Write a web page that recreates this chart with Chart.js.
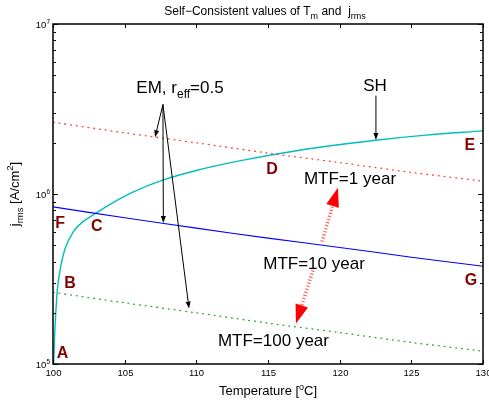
<!DOCTYPE html>
<html>
<head>
<meta charset="utf-8">
<script src="https://cdn.jsdelivr.net/npm/chart.js"></script>
<style>
  html, body { margin: 0; padding: 0; background: #fff; }
  #wrap { width: 489px; height: 404px; }
</style>
</head>
<body>
<div id="wrap"><canvas id="chart" width="489" height="404"></canvas></div>
<script>
// Temperature grid of the EM lines (deg C)
const temps = [100, 105, 110, 115, 120, 125, 130];

// EM limited current density for each MTF target (A/cm^2)
const mtf1Year = [2.64e6, 2.29e6, 2.0e6, 1.74e6, 1.53e6, 1.34e6, 1.19e6];
const mtf10Year = [8.4e5, 7.25e5, 6.3e5, 5.5e5, 4.85e5, 4.25e5, 3.76e5];
const mtf100Year = [2.64e5, 2.29e5, 2.0e5, 1.74e5, 1.53e5, 1.34e5, 1.19e5];

// Self heating (SH) curve
const shTemps = [100.04, 100.08, 100.12, 100.19, 100.3, 100.49, 100.84, 101.42, 102.11, 102.93,
  103.98, 105.5, 107.7, 110, 113, 117.2, 122.5, 126, 130];
const shValues = [1.0e5, 1.2e5, 1.51e5, 1.97e5, 2.71e5, 3.55e5, 4.76e5, 6.0e5, 6.9e5, 7.65e5,
  8.7e5, 1.02e6, 1.21e6, 1.375e6, 1.565e6, 1.81e6, 2.07e6, 2.22e6, 2.35e6];

// Axis ticks
const xTicks = [100, 105, 110, 115, 120, 125, 130];
const yDecades = [5, 6, 7];

// Point letters (placed at temperature / current density)
const letters = ['A', 'B', 'C', 'D', 'E', 'F', 'G'];
const letterTemps = [100.66, 101.19, 103.05, 115.28, 129.09, 100.49, 129.16];
const letterValues = [1.16e5, 3.02e5, 6.48e5, 1.42e6, 1.95e6, 6.8e5, 3.14e5];

// Black arrows: [fromT, fromJ, toT, toJ]
const blackArrows = [
  [107.67, 3.36e6, 107.12, 2.16e6],
  [107.67, 3.36e6, 107.70, 6.75e5],
  [107.67, 3.36e6, 109.49, 2.12e5],
  [122.53, 3.79e6, 122.53, 2.08e6]
];
// Red dotted arrows between MTF lines
const redArrows = [
  [118.77, 5.25e5, 119.88, 1.09e6],
  [118.14, 3.55e5, 116.95, 1.73e5]
];

const toXY = (xs, ys) => xs.map((t, i) => ({ x: t, y: ys[i] }));

const FONT = '"Liberation Sans", Arial, Helvetica, sans-serif';

// Draw runs of text with sub/superscripts
function drawRich(ctx, runs, x, y, align) {
  let total = 0;
  runs.forEach(r => {
    ctx.font = (r.bold ? 'bold ' : '') + r.size + 'px ' + FONT;
    r.w = ctx.measureText(r.text).width;
    total += r.w;
  });
  let cx = x;
  if (align === 'center') cx = x - total / 2;
  if (align === 'right') cx = x - total;
  ctx.textAlign = 'left';
  ctx.textBaseline = 'alphabetic';
  runs.forEach(r => {
    ctx.font = (r.bold ? 'bold ' : '') + r.size + 'px ' + FONT;
    ctx.fillText(r.text, cx, y + (r.dy || 0));
    cx += r.w;
  });
}

function arrowHead(ctx, x0, y0, x1, y1, len, half) {
  const dx = x1 - x0, dy = y1 - y0;
  const d = Math.hypot(dx, dy);
  const ux = dx / d, uy = dy / d;
  const bx = x1 - ux * len, by = y1 - uy * len;
  ctx.beginPath();
  ctx.moveTo(x1, y1);
  ctx.lineTo(bx - uy * half, by + ux * half);
  ctx.lineTo(bx + uy * half, by - ux * half);
  ctx.closePath();
  ctx.fill();
  return [bx, by];
}

const decorations = {
  id: 'decorations',
  afterDraw(chart) {
    const { ctx, chartArea: a } = chart;
    const xs = chart.scales.x, ys = chart.scales.y;
    ctx.save();

    // box
    ctx.strokeStyle = '#000';
    ctx.lineWidth = 1.5;
    ctx.strokeRect(a.left, a.top, a.right - a.left, a.bottom - a.top);

    // x ticks (inside, top and bottom)
    ctx.lineWidth = 1;
    ctx.fillStyle = '#000';
    xTicks.forEach(t => {
      const px = Math.round(xs.getPixelForValue(t)) + 0.5;
      ctx.beginPath();
      ctx.moveTo(px, a.bottom); ctx.lineTo(px, a.bottom - 4);
      ctx.moveTo(px, a.top); ctx.lineTo(px, a.top + 4);
      ctx.stroke();
      ctx.font = '9.5px ' + FONT;
      ctx.textAlign = 'center';
      ctx.textBaseline = 'middle';
      ctx.fillText(String(t), px, a.bottom + 9);
    });

    // y ticks: major and minor (inside, left and right)
    yDecades.forEach(e => {
      for (let k = 1; k <= 9; k++) {
        if (e === 7 && k > 1) break;
        const py = Math.round(ys.getPixelForValue(k * Math.pow(10, e))) + 0.5;
        const len = k === 1 ? 5 : 3;
        ctx.beginPath();
        ctx.moveTo(a.left, py); ctx.lineTo(a.left + len, py);
        ctx.moveTo(a.right, py); ctx.lineTo(a.right - len, py);
        ctx.stroke();
      }
      const py = ys.getPixelForValue(Math.pow(10, e));
      drawRich(ctx, [
        { text: '10', size: 9.5 },
        { text: String(e), size: 6.5, dy: -4 }
      ], a.left - 3, py + 4, 'right');
    });

    // title
    ctx.fillStyle = '#000';
    drawRich(ctx, [
      { text: 'Self\u2212Consistent values of T', size: 12 },
      { text: 'm', size: 9, dy: 4 },
      { text: ' and  j', size: 12 },
      { text: 'rms', size: 9, dy: 4 }
    ], (a.left + a.right) / 2 - 3, 15, 'center');

    // x label
    drawRich(ctx, [
      { text: 'Temperature [', size: 13 },
      { text: 'o', size: 9, dy: -5 },
      { text: 'C]', size: 13 }
    ], (a.left + a.right) / 2, 395, 'center');

    // y label
    ctx.save();
    ctx.translate(19, (a.top + a.bottom) / 2);
    ctx.rotate(-Math.PI / 2);
    drawRich(ctx, [
      { text: 'j', size: 13 },
      { text: 'rms', size: 9.5, dy: 4 },
      { text: ' [A/cm', size: 13 },
      { text: '2', size: 9.5, dy: -6 },
      { text: ']', size: 13 }
    ], 0, 0, 'center');
    ctx.restore();

    // red dotted double arrows
    redArrows.forEach(([t0, j0, t1, j1]) => {
      const x0 = xs.getPixelForValue(t0), y0 = ys.getPixelForValue(j0);
      const x1 = xs.getPixelForValue(t1), y1 = ys.getPixelForValue(j1);
      ctx.fillStyle = '#ff0000';
      const [bx, by] = arrowHead(ctx, x0, y0, x1, y1, 19, 6.5);
      ctx.strokeStyle = 'rgb(255,100,100)';
      ctx.lineWidth = 3.5;
      ctx.setLineDash([1.2, 2]);
      ctx.beginPath();
      ctx.moveTo(x0, y0); ctx.lineTo(bx, by);
      ctx.stroke();
      ctx.setLineDash([]);
    });

    // black arrows
    blackArrows.forEach(([t0, j0, t1, j1]) => {
      const x0 = xs.getPixelForValue(t0), y0 = ys.getPixelForValue(j0);
      const x1 = xs.getPixelForValue(t1), y1 = ys.getPixelForValue(j1);
      ctx.fillStyle = '#000';
      ctx.strokeStyle = '#000';
      ctx.lineWidth = 1;
      const [bx, by] = arrowHead(ctx, x0, y0, x1, y1, 7, 2.5);
      ctx.beginPath();
      ctx.moveTo(x0, y0); ctx.lineTo(bx, by);
      ctx.stroke();
    });

    // text annotations
    ctx.fillStyle = '#000';
    const lbl = (t, j) => [xs.getPixelForValue(t), ys.getPixelForValue(j)];
    let p = lbl(108.86, 3.95e6);
    drawRich(ctx, [
      { text: 'EM, r', size: 17 },
      { text: 'eff', size: 12, dy: 5 },
      { text: '=0.5', size: 17 }
    ], p[0], p[1], 'center');
    p = lbl(122.47, 4.01e6);
    drawRich(ctx, [{ text: 'SH', size: 17 }], p[0], p[1], 'center');
    p = lbl(120.72, 1.15e6);
    drawRich(ctx, [{ text: 'MTF=1 year', size: 17 }], p[0], p[1], 'center');
    p = lbl(118.21, 3.6e5);
    drawRich(ctx, [{ text: 'MTF=10 year', size: 17 }], p[0], p[1], 'center');
    p = lbl(115.38, 1.28e5);
    drawRich(ctx, [{ text: 'MTF=100 year', size: 17 }], p[0], p[1], 'center');

    // point letters
    ctx.fillStyle = '#850000';
    ctx.font = 'bold 16px ' + FONT;
    ctx.textAlign = 'center';
    ctx.textBaseline = 'middle';
    letters.forEach((s, i) => {
      ctx.fillText(s, xs.getPixelForValue(letterTemps[i]), ys.getPixelForValue(letterValues[i]) + 1);
    });

    ctx.restore();
  }
};

new Chart(document.getElementById('chart'), {
  type: 'line',
  data: {
    datasets: [
      {
        label: 'MTF=1 year',
        data: toXY(temps, mtf1Year),
        borderColor: 'rgb(255,60,60)',
        borderWidth: 1.3,
        borderDash: [1.8, 4],
        pointRadius: 0,
        tension: 0.3
      },
      {
        label: 'MTF=10 year',
        data: toXY(temps, mtf10Year),
        borderColor: '#0000ff',
        borderWidth: 1.1,
        pointRadius: 0,
        tension: 0.3
      },
      {
        label: 'MTF=100 year',
        data: toXY(temps, mtf100Year),
        borderColor: 'rgb(40,165,40)',
        borderWidth: 1.3,
        borderDash: [1.8, 4],
        pointRadius: 0,
        tension: 0.3
      },
      {
        label: 'SH',
        data: toXY(shTemps, shValues),
        borderColor: 'rgb(0,190,190)',
        borderWidth: 1.4,
        pointRadius: 0,
        cubicInterpolationMode: 'monotone'
      }
    ]
  },
  options: {
    responsive: false,
    animation: false,
    devicePixelRatio: 1,
    layout: { padding: { left: 53, right: 6, top: 24, bottom: 40 } },
    plugins: {
      legend: { display: false },
      tooltip: { enabled: false }
    },
    scales: {
      x: { type: 'linear', min: 100, max: 130, display: false },
      y: { type: 'logarithmic', min: 1e5, max: 1e7, display: false }
    }
  },
  plugins: [decorations]
});
</script>
</body>
</html>
